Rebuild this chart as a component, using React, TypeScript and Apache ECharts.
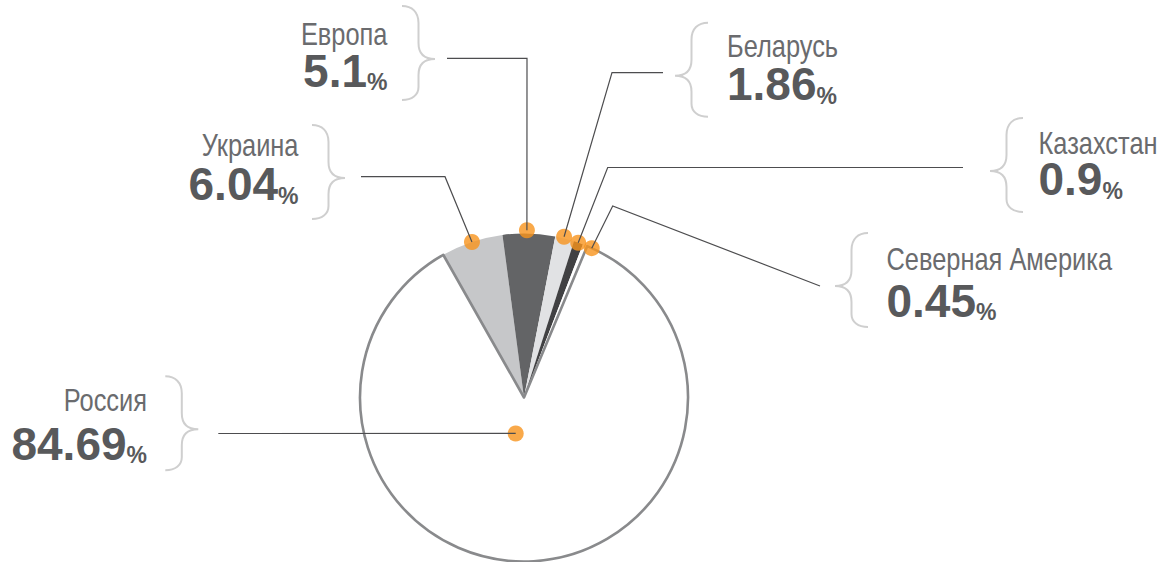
import React, { useEffect, useRef } from "react";
import * as echarts from "echarts";

// ---- data ----
const names = ["Украина", "Европа", "Беларусь", "Казахстан", "Северная Америка", "Россия"];
const shares = [6.04, 5.1, 1.86, 0.9, 0.45, 84.69];
const sliceColors = ["#c6c7c9", "#636466", "#e1e2e4", "#414143", "#ffffff", "#ffffff"];
// orange markers, in polar terms: angle clockwise from top (deg), radius as share of pie radius
const dotAngles = [341.5, 1.0, 14.0, 19.3, 24.4, 193];
const dotRadii = [1.0, 1.02, 1.01, 1.0, 1.0, 0.225];

// ---- layout ----
const CX = 524;
const CY = 397.5;
const R = 164;
const SANS = "'Liberation Sans', Arial, sans-serif";
const NAME_SCALE = 0.82;

type LabelCfg = {
  side: "left" | "right";
  x: number; // anchor x (right edge for left side, left edge for right side)
  nameY: number;
  numY: number;
  elbow: number[] | null;
  end: number[];
  brace: number[];
};
const labelCfg: LabelCfg[] = [
  { side: "left", x: 298.5, nameY: 128, numY: 161.3, elbow: [445, 176.7], end: [361, 176.7], brace: [345, 178] },
  { side: "left", x: 387.5, nameY: 17.3, numY: 47.6, elbow: [527, 58.3], end: [447, 58.3], brace: [435, 59] },
  { side: "right", x: 727, nameY: 28.8, numY: 61.1, elbow: [612, 72.7], end: [663, 72.7], brace: [675, 75.7] },
  { side: "right", x: 1038.5, nameY: 125.6, numY: 156.1, elbow: [607.7, 167.5], end: [963, 167.5], brace: [990, 171] },
  { side: "right", x: 886.5, nameY: 242.3, numY: 277.6, elbow: [612.7, 206], end: [820, 286], brace: [835, 286] },
  { side: "left", x: 147, nameY: 383.3, numY: 420.6, elbow: null, end: [218.3, 433.5], brace: [198.3, 429.3] },
];

const BRACE_D =
  "M0,0 C10,0 16.5,6 16.5,17 L16.5,37 C16.5,47 22,53 33,53 C22,53 16.5,59 16.5,69 L16.5,81 C16.5,89 10,94 0,94";
echarts.graphic.registerShape("brace", echarts.graphic.extendPath(BRACE_D, {}) as any);

function dotXY(i: number): number[] {
  const a = (dotAngles[i] * Math.PI) / 180;
  const r = dotRadii[i] * R;
  return [CX + r * Math.sin(a), CY - r * Math.cos(a)];
}

function makeRich(align: string) {
  return {
    v: { fontFamily: SANS, fontWeight: "bold", fontSize: 46, lineHeight: 46, color: "#58595b", align },
    p: {
      fontFamily: SANS,
      fontWeight: "bold",
      fontSize: 23,
      lineHeight: 30,
      verticalAlign: "bottom",
      color: "#58595b",
      align,
    },
  };
}

export default function App() {
  const ref = useRef<HTMLDivElement>(null);
  useEffect(() => {
    if (!ref.current) return;
    const chart = echarts.init(ref.current, null, { renderer: "svg" });
    const sliceData = names.map((n, i) => ({
      name: n,
      value: shares[i],
      itemStyle:
        i === names.length - 1
          ? { color: sliceColors[i], borderColor: "#898a8c", borderWidth: 2.6 }
          : { color: sliceColors[i], borderWidth: 0 },
    }));
    const labelData = names.map((n, i) => ({
      name: n,
      value: shares[i],
      label: { rich: makeRich(labelCfg[i].side === "left" ? "right" : "left") },
    }));
    const braces = labelCfg.map((c) => ({
      type: "brace",
      x: c.side === "left" ? c.brace[0] - 33 : c.brace[0] + 33,
      y: c.brace[1] - 53,
      scaleX: c.side === "left" ? 1 : -1,
      silent: true,
      style: { fill: "none", stroke: "#cfcfcf", lineWidth: 2 },
    }));
    const nameTexts = labelCfg.map((c, i) => ({
      type: "text",
      x: c.x,
      y: c.nameY,
      scaleX: NAME_SCALE,
      silent: true,
      style: {
        text: names[i],
        fontFamily: SANS,
        fontSize: 31,
        lineHeight: 34,
        fill: "#6a6b6e",
        align: c.side === "left" ? "right" : "left",
        verticalAlign: "top",
      },
    }));
    chart.setOption({
      animation: false,
      polar: { center: [CX, CY], radius: R },
      angleAxis: { type: "value", min: 0, max: 360, startAngle: 90, clockwise: true, show: false },
      radiusAxis: { type: "value", min: 0, max: 1, show: false },
      graphic: [...braces, ...nameTexts],
      series: [
        {
          type: "pie",
          z: 1,
          silent: true,
          center: [CX, CY],
          radius: R,
          startAngle: 119.5,
          clockwise: true,
          avoidLabelOverlap: false,
          itemStyle: { borderWidth: 0 },
          label: { show: false },
          labelLine: { show: false },
          emphasis: { disabled: true },
          data: sliceData,
        },
        {
          type: "scatter",
          z: 2,
          silent: true,
          clip: false,
          coordinateSystem: "polar",
          symbol: "circle",
          symbolSize: 16,
          itemStyle: { color: "#f7941d" },
          data: dotRadii.map((r, i) => [r, dotAngles[i]]),
        },
        {
          type: "pie",
          z: 3,
          silent: true,
          center: [CX, CY],
          radius: R,
          startAngle: 119.5,
          clockwise: true,
          avoidLabelOverlap: false,
          itemStyle: { color: "rgba(0,0,0,0)", borderWidth: 0 },
          emphasis: { disabled: true },
          label: {
            show: true,
            position: "outside",
            formatter: (p: any) => `{v|${p.value}}{p|%}`,
          },
          labelLine: { show: true, lineStyle: { color: "#4d4d4f", width: 1.2 } },
          labelLayout: (params: any) => {
            const i = params.dataIndex;
            const c = labelCfg[i];
            const d = dotXY(i);
            const elbow = c.elbow ? c.elbow : d;
            return {
              x: c.x,
              y: c.numY,
              align: c.side === "left" ? "right" : "left",
              verticalAlign: "top",
              labelLinePoints: [d, elbow, c.end],
            };
          },
          data: labelData,
        },
      ],
    });
    return () => chart.dispose();
  }, []);
  return (
    <div
      ref={ref}
      style={{ position: "absolute", left: 0, top: 0, width: 1172, height: 562, background: "#fff" }}
    />
  );
}
